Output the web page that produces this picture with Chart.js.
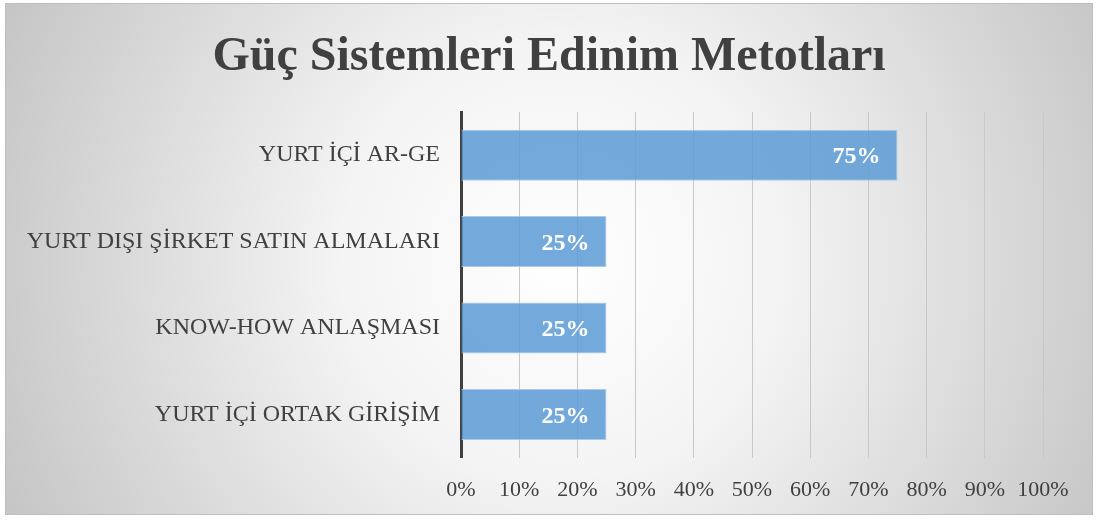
<!DOCTYPE html>
<html>
<head>
<meta charset="utf-8">
<script src="https://cdn.jsdelivr.net/npm/chart.js@4"></script>
<style>
  html, body { margin: 0; padding: 0; background: #fff; }
  #wrap { width: 1099px; height: 521px; }
</style>
</head>
<body>
<div id="wrap"><canvas id="bar-chart"></canvas></div>
<script>
const categories = ['YURT İÇİ AR-GE', 'YURT DIŞI ŞİRKET SATIN ALMALARI', 'KNOW-HOW ANLAŞMASI', 'YURT İÇİ ORTAK GİRİŞİM'];
const values = [75, 25, 25, 25];
const titleText = 'Güç Sistemleri Edinim Metotları';

const serif = '"Liberation Serif", "Times New Roman", serif';

// radial background + frame + centred title
const bgPlugin = {
    id: 'bg',
    beforeDraw(chart) {
        const c = chart.ctx;
        const x0 = 5, y0 = 3, x1 = 1093, y1 = 515;
        const g = c.createRadialGradient(560, 260, 0, 560, 260, 620);
        g.addColorStop(0, '#ffffff');
        g.addColorStop(0.35, '#f4f4f4');
        g.addColorStop(1, '#c4c4c4');
        c.save();
        c.fillStyle = g;
        c.fillRect(x0, y0, x1 - x0, y1 - y0);
        c.strokeStyle = '#bfbfbf';
        c.lineWidth = 1;
        c.strokeRect(x0 + 0.5, y0 + 0.5, x1 - x0 - 1, y1 - y0 - 1);
        c.font = 'bold 48px ' + serif;
        c.fillStyle = '#404040';
        c.textAlign = 'center';
        c.textBaseline = 'middle';
        c.fillText(titleText, (x0 + x1) / 2, 58);
        c.restore();
    }
};

// value labels inside bar end
const labelPlugin = {
    id: 'barLabels',
    afterDatasetsDraw(chart) {
        const c = chart.ctx;
        const meta = chart.getDatasetMeta(0);
        c.save();
        c.font = 'bold 24px ' + serif;
        c.fillStyle = '#ffffff';
        c.textAlign = 'right';
        c.textBaseline = 'middle';
        meta.data.forEach((bar, i) => {
            c.fillText(values[i] + '%', bar.x - 17, bar.y + 2);
        });
        c.restore();
    }
};

const ctx = document.getElementById('bar-chart').getContext('2d');
const myChart = new Chart(ctx, {
    type: 'bar',
    data: {
        labels: categories,
        datasets: [{
            data: values,
            backgroundColor: 'rgba(91, 155, 213, 0.85)',
            borderColor: 'rgba(170, 202, 232, 1)',
            borderWidth: 1,
            borderSkipped: 'left',
            barPercentage: 0.59,
            categoryPercentage: 1
        }]
    },
    options: {
        indexAxis: 'y',
        responsive: true,
        maintainAspectRatio: false,
        animation: false,
        layout: { padding: { left: 6, right: 56, top: 112, bottom: -1 } },
        plugins: {
            legend: { display: false },
            tooltip: { enabled: false },
            title: { display: false }
        },
        scales: {
            x: {
                min: 0,
                max: 100,
                ticks: {
                    stepSize: 10,
                    color: '#404040',
                    padding: 19,
                    font: { family: serif, size: 22 },
                    callback: v => v + '%'
                },
                grid: { color: '#c8c8c8', lineWidth: 1, drawTicks: false },
                border: { display: false }
            },
            y: {
                afterFit: scale => { scale.width = 455; },
                ticks: {
                    color: '#404040',
                    padding: 21,
                    font: { family: serif, size: 24 }
                },
                grid: { display: false, drawTicks: false },
                border: { display: true, color: '#404040', width: 3 }
            }
        }
    },
    plugins: [bgPlugin, labelPlugin]
});
</script>
</body>
</html>
